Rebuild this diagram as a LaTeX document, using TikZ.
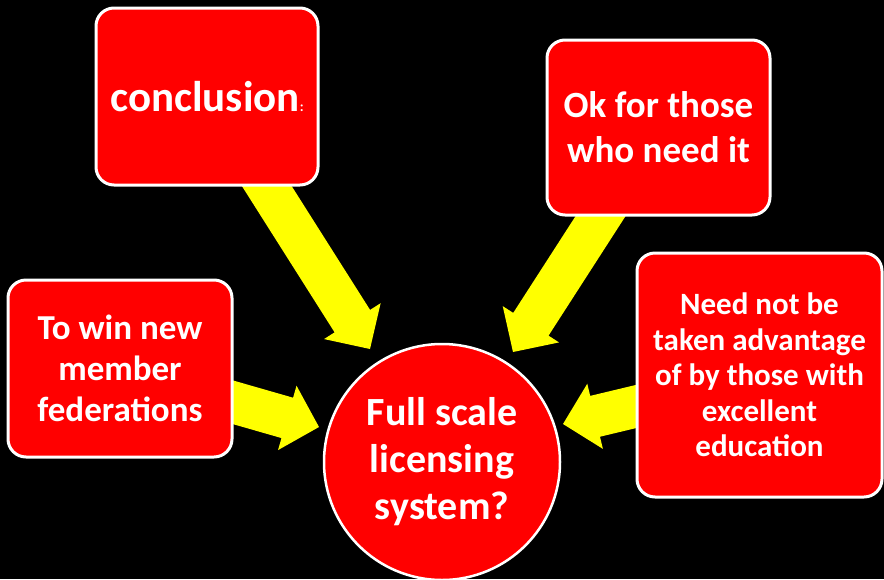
\documentclass[tikz,border=0pt]{standalone}
\usepackage{fontspec}
\setmainfont{Carlito}
\usetikzlibrary{calc}
\definecolor{boxred}{RGB}{255,0,0}
\definecolor{arrowyellow}{RGB}{255,255,0}
\tikzset{
  redbox/.style={draw=white, line width=3pt, fill=boxred, rounded corners=18pt,
    text=white, align=center, inner sep=0pt},
  redcircle/.style={circle, draw=white, line width=2.5pt, fill=boxred,
    text=white, align=center, inner sep=0pt},
  fatarrow/.style={fill=arrowyellow, draw=none}
}
\newcommand{\fatarrow}[2]{%
  \coordinate (fs) at ($(#1)!-25pt!(#2)$);
  \coordinate (hb) at ($(#2)!33pt!(#1)$);
  \fill[fatarrow] ($(fs)!21pt!90:(#2)$) -- ($(hb)!21pt!90:(#2)$) -- ($(hb)!33.5pt!90:(#2)$)
    -- (#2) -- ($(hb)!33.5pt!-90:(#2)$) -- ($(hb)!21pt!-90:(#2)$) -- ($(fs)!21pt!-90:(#2)$) -- cycle;
}
\begin{document}
\begin{tikzpicture}[x=1pt,y=-1pt]
\fill[black] (0,0) rectangle (884,579);
\useasboundingbox (0,0) rectangle (884,579);
% node centres
\path (207,98.5) coordinate (conclc);
\path (658.5,127.5) coordinate (okc);
\path (120,368.5) coordinate (winc);
\path (759.5,375) coordinate (needc);
\path (442,462) coordinate (fullc);
% arrow end points
\coordinate (a1s) at (268,188);
\coordinate (a1t) at ($(fullc)+(-72,-113)$);
\coordinate (a2s) at (600,217);
\coordinate (a2t) at ($(fullc)+(71,-110)$);
\coordinate (a3s) at (232,402);
\coordinate (a3t) at ($(fullc)+(-123,-35)$);
\coordinate (a4s) at (636,406.5);
\coordinate (a4t) at ($(fullc)+(121,-38)$);
\fatarrow{a1s}{a1t}
\fatarrow{a2s}{a2t}
\fatarrow{a3s}{a3t}
\fatarrow{a4s}{a4t}
% boxes
\node[redbox, minimum width=222pt, minimum height=177pt,
  font=\bfseries\fontsize{43}{48}\selectfont] (concl) at ($(conclc)+(0,-2)$)
  {conclusion{\fontsize{14}{14}\selectfont:}};
\node[redbox, minimum width=223pt, minimum height=175pt,
  font=\bfseries\fontsize{37}{45}\selectfont] (ok) at (okc)
  {Ok for those\\ who need it};
\node[redbox, minimum width=224pt, minimum height=177pt,
  font=\bfseries\fontsize{35}{41}\selectfont] (win) at (winc)
  {To win new\\ member\\ federations};
\node[redbox, minimum width=245pt, minimum height=244pt,
  font=\bfseries\fontsize{31}{35.5}\selectfont] (need) at (needc)
  {Need not be\\ taken advantage\\ of by those with\\ excellent\\ education};
\node[redcircle, minimum size=236pt,
  font=\bfseries\fontsize{40}{47}\selectfont] (full) at (fullc)
  {Full scale\\ licensing\\ system?};
\end{tikzpicture}
\end{document}
